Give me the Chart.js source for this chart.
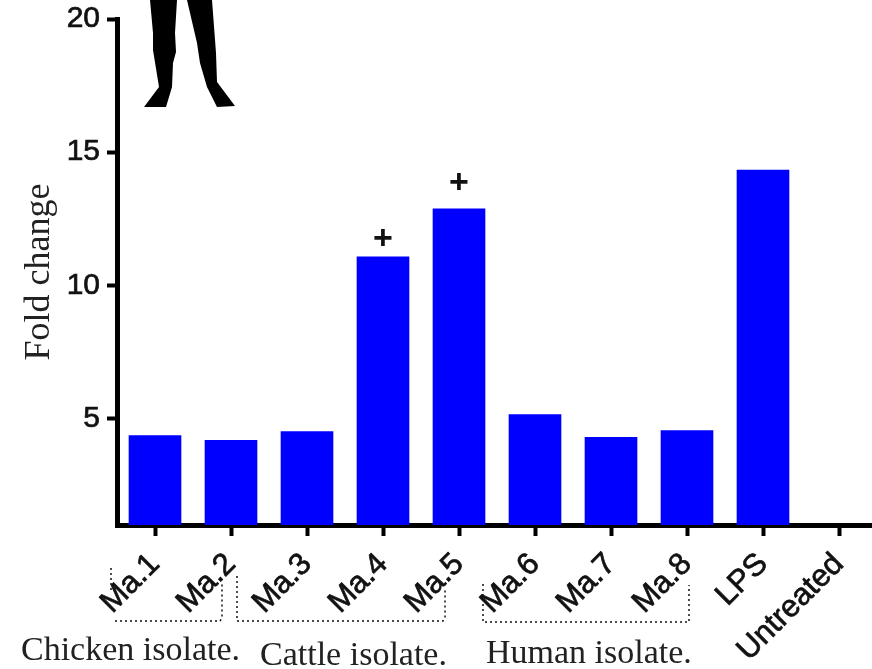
<!DOCTYPE html>
<html>
<head>
<meta charset="utf-8">
<script src="https://cdn.jsdelivr.net/npm/chart.js@4"></script>
<style>
  html, body { margin: 0; padding: 0; background: #fff; overflow: hidden; }
  #wrap { width: 872px; height: 669px; overflow: hidden; }
</style>
</head>
<body>
<div id="wrap"><canvas id="myChart" width="877" height="669"></canvas></div>
<script>
const categories = ['Ma.1', 'Ma.2', 'Ma.3', 'Ma.4', 'Ma.5', 'Ma.6', 'Ma.7', 'Ma.8', 'LPS', 'Untreated'];
const foldChange = [4.36, 4.18, 4.51, 11.07, 12.87, 5.15, 4.29, 4.55, 14.33, null];
const yTicks = [5, 10, 15, 20];
const plusValues = [null, null, null, 11.72, 13.8, null, null, null, null, null];
const groupNames = ['Chicken isolate.', 'Cattle isolate.', 'Human isolate.'];

const sans = '"Liberation Sans", Arial, sans-serif';
const serif = '"Liberation Serif", "Times New Roman", serif';

// picture bits that are not data: leg silhouette, dotted brackets, captions
const extras = {
  id: 'extras',
  afterDraw(chart) {
    const ctx = chart.ctx;
    const x = chart.scales.x, y = chart.scales.y;

    ctx.save();
    ctx.fillStyle = '#000';
    const legs = [
      [[150,0],[153,33],[153,50],[159,87],[144,107],[166,107],[172,87],[173,63],[176,52],[175,33],[177,0]],
      [[187,0],[197,43],[200,63],[207,87],[217,107],[235,106],[217,82],[216,53],[212,0]]
    ];
    legs.forEach(leg => {
      ctx.beginPath();
      leg.forEach((p, i) => i ? ctx.lineTo(p[0], p[1]) : ctx.moveTo(p[0], p[1]));
      ctx.closePath();
      ctx.fill();
    });

    // plus signs sit above Ma.4 / Ma.5
    ctx.font = 'bold 34px ' + sans;
    ctx.fillStyle = '#111';
    ctx.textAlign = 'center';
    ctx.textBaseline = 'middle';
    plusValues.forEach((v, i) => {
      if (v !== null) ctx.fillText('+', x.getPixelForValue(i), y.getPixelForValue(v));
    });

    // brackets
    ctx.strokeStyle = '#111';
    ctx.lineWidth = 1.5;
    ctx.setLineDash([2, 3]);
    const brackets = [
      [[111,568],[111,592]],
      [[115,621],[220,621],[222,618],[222,583]],
      [[237,576],[237,621],[443,621],[445,618],[445,590]],
      [[483,584],[483,622],[689,622],[689,585]]
    ];
    brackets.forEach(b => {
      ctx.beginPath();
      b.forEach((p, i) => i ? ctx.lineTo(p[0], p[1]) : ctx.moveTo(p[0], p[1]));
      ctx.stroke();
    });
    ctx.setLineDash([]);

    // group captions
    ctx.font = '34px ' + serif;
    ctx.fillStyle = '#222';
    ctx.textAlign = 'left';
    ctx.textBaseline = 'alphabetic';
    ctx.fillText(groupNames[0], 21, 660);
    ctx.fillText(groupNames[1], 260, 665);
    ctx.fillText(groupNames[2], 486, 663);
    ctx.restore();
  }
};

new Chart(document.getElementById('myChart').getContext('2d'), {
  type: 'bar',
  data: {
    labels: categories,
    datasets: [{
      label: 'Fold change',
      data: foldChange,
      backgroundColor: '#0000ff',
      barThickness: 52
    }]
  },
  options: {
    responsive: false,
    animation: false,
    layout: { padding: { top: 19, left: 0, right: 0, bottom: 0 } },
    plugins: { legend: { display: false }, tooltip: { enabled: false } },
    scales: {
      x: {
        afterFit: s => { s.height = 144; },
        border: { color: '#000', width: 5 },
        grid: { offset: false, drawOnChartArea: false, color: '#000', tickLength: 11, tickWidth: 4, tickColor: '#000' },
        ticks: {
          color: '#111', minRotation: 45, maxRotation: 45, padding: 10, autoSkip: false,
          textStrokeColor: '#111', textStrokeWidth: 0.7,
          font: { family: sans, size: 31 }
        }
      },
      y: {
        min: 1,
        max: 20,
        afterBuildTicks: s => { s.ticks = yTicks.map(v => ({ value: v })); },
        // top label would otherwise push the axis down
        afterFit: s => { s.width = 117; s.paddingTop = 0; },
        border: { color: '#000', width: 5 },
        grid: { drawOnChartArea: false, color: '#000', tickLength: 10, tickWidth: 4, tickColor: '#000' },
        title: { display: true, text: 'Fold change', color: '#222', padding: { top: 18, bottom: 0 }, font: { family: serif, size: 36, weight: 'normal' } },
        ticks: {
          color: '#111', padding: 7,
          textStrokeColor: '#111', textStrokeWidth: 0.7,
          font: { family: sans, size: 30 }
        }
      }
    }
  },
  plugins: [extras]
});
</script>
</body>
</html>
